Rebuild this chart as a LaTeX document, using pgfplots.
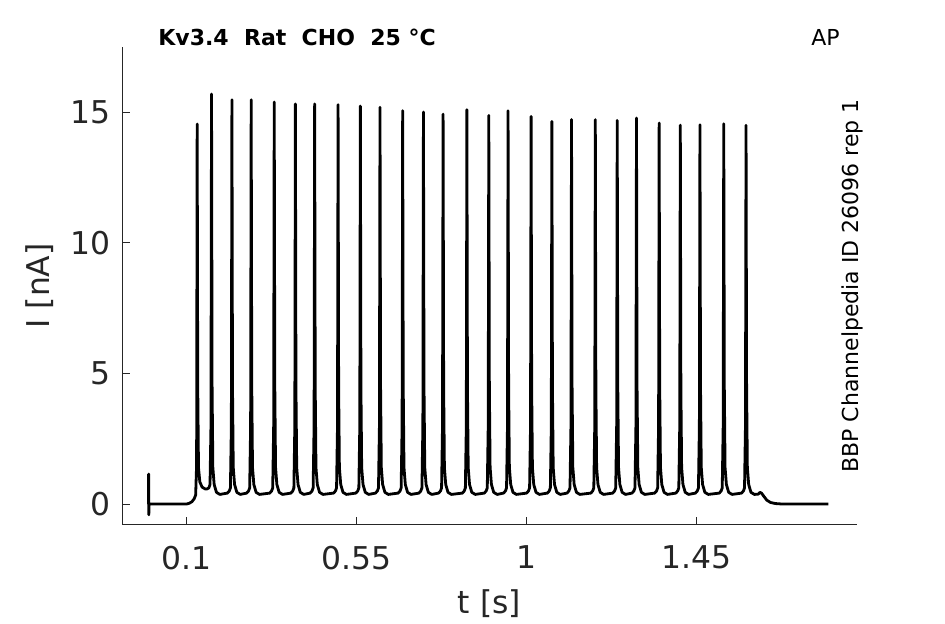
\documentclass[border=0pt]{standalone}
\usepackage{fontspec}
\setmainfont{DejaVu Sans}
\usepackage{pgfplots}
\pgfplotsset{compat=1.18}
\definecolor{axgray}{HTML}{262626}
\begin{document}
\begin{tikzpicture}
\path[use as bounding box] (0,0) rectangle (472.5pt,312pt);
\begin{axis}[
 at={(61pt,49.5pt)}, anchor=south west,
 scale only axis, width=367.35pt, height=239.15pt,
 xmin=-0.07, xmax=1.875, ymin=-0.8, ymax=17.5,
 axis x line*=bottom, axis y line*=left,
 axis line style={axgray, line width=0.5pt},
 tick align=inside, major tick length=4pt,
 tick style={axgray, line width=0.5pt},
 xtick={0.1,0.55,1,1.45}, xticklabels={0.1,0.55,1,1.45},
 ytick={0,5,10,15},
 tick label style={font=\fontsize{15.7}{18}\selectfont, text=axgray},
 /pgf/number format/assume math mode=true,
 xticklabel style={yshift=-7pt},
 yticklabel style={xshift=-2.3pt},
 xlabel={t [s]}, ylabel={I [nA]},
 label style={font=\fontsize{15.7}{18}\selectfont, text=axgray},
 xlabel style={at={(axis description cs:0.5,-0.186)}, anchor=base},
 ylabel style={at={(axis description cs:-0.098,0.5)}, anchor=base},
]
\addplot[black, line width=1.4pt, line join=round] coordinates {
(0,0) (0.0005,1.15) (0.001,-0.41) (0.0015,0) (0.100,0) (0.108,0.03) (0.115,0.09) (0.121,0.2) (0.125,0.35) (0.1275,1.5)
(0.129,14.54) (0.1305,4.5) (0.1325,1.4) (0.136,0.85) (0.142,0.65) (0.150,0.58)
(0.155,0.58) (0.160,0.62) (0.163,0.75) (0.1655,3.0)
(0.167,15.69) (0.1685,4.5) (0.1705,1.4) (0.174,0.75) (0.180,0.45) (0.189,0.37)
(0.209,0.42) (0.214,0.50) (0.217,0.62) (0.2195,3.0) (0.221,15.47)
(0.2225,4.5) (0.2245,1.4) (0.228,0.75) (0.234,0.45) (0.243,0.37)
(0.260,0.42) (0.265,0.50) (0.268,0.62) (0.2705,3.0) (0.272,15.47)
(0.2735,4.5) (0.2755,1.4) (0.279,0.75) (0.285,0.45) (0.294,0.37)
(0.321,0.42) (0.326,0.50) (0.329,0.62) (0.3315,3.0) (0.333,15.38)
(0.3345,4.5) (0.3365,1.4) (0.340,0.75) (0.346,0.45) (0.355,0.37)
(0.377,0.42) (0.382,0.50) (0.385,0.62) (0.3875,3.0) (0.389,15.31)
(0.3905,4.5) (0.3925,1.4) (0.396,0.75) (0.402,0.45) (0.411,0.37)
(0.428,0.42) (0.433,0.50) (0.436,0.62) (0.4385,3.0) (0.440,15.31)
(0.4415,4.5) (0.4435,1.4) (0.447,0.75) (0.453,0.45) (0.462,0.37)
(0.490,0.42) (0.495,0.50) (0.498,0.62) (0.5005,3.0) (0.502,15.28)
(0.5035,4.5) (0.5055,1.4) (0.509,0.75) (0.515,0.45) (0.524,0.37)
(0.549,0.42) (0.554,0.50) (0.557,0.62) (0.5595,3.0) (0.561,15.23)
(0.5625,4.5) (0.5645,1.4) (0.568,0.75) (0.574,0.45) (0.583,0.37)
(0.601,0.42) (0.606,0.50) (0.609,0.62) (0.6115,3.0) (0.613,15.18)
(0.6145,4.5) (0.6165,1.4) (0.620,0.75) (0.626,0.45) (0.635,0.37)
(0.661,0.42) (0.666,0.50) (0.669,0.62) (0.6715,3.0) (0.673,15.05)
(0.6745,4.5) (0.6765,1.4) (0.680,0.75) (0.686,0.45) (0.695,0.37)
(0.716,0.42) (0.721,0.50) (0.724,0.62) (0.7265,3.0) (0.728,15.00)
(0.7295,4.5) (0.7315,1.4) (0.735,0.75) (0.741,0.45) (0.750,0.37)
(0.768,0.42) (0.773,0.50) (0.776,0.62) (0.7785,3.0) (0.780,14.92)
(0.7815,4.5) (0.7835,1.4) (0.787,0.75) (0.793,0.45) (0.802,0.37)
(0.831,0.42) (0.836,0.50) (0.839,0.62) (0.8415,3.0) (0.843,15.09)
(0.8445,4.5) (0.8465,1.4) (0.850,0.75) (0.856,0.45) (0.865,0.37)
(0.889,0.42) (0.894,0.50) (0.897,0.62) (0.8995,3.0) (0.901,14.87)
(0.9025,4.5) (0.9045,1.4) (0.908,0.75) (0.914,0.45) (0.923,0.37)
(0.940,0.42) (0.945,0.50) (0.948,0.62) (0.9505,3.0) (0.952,15.05)
(0.9535,4.5) (0.9555,1.4) (0.959,0.75) (0.965,0.45) (0.974,0.37)
(1.001,0.42) (1.006,0.50) (1.009,0.62) (1.0115,3.0) (1.013,14.83)
(1.0145,4.5) (1.0165,1.4) (1.020,0.75) (1.026,0.45) (1.035,0.37)
(1.056,0.42) (1.061,0.50) (1.064,0.62) (1.0665,3.0) (1.068,14.64)
(1.0695,4.5) (1.0715,1.4) (1.075,0.75) (1.081,0.45) (1.090,0.37)
(1.108,0.42) (1.113,0.50) (1.116,0.62) (1.1185,3.0) (1.120,14.71)
(1.1215,4.5) (1.1235,1.4) (1.127,0.75) (1.133,0.45) (1.142,0.37)
(1.171,0.42) (1.176,0.50) (1.179,0.62) (1.1815,3.0) (1.183,14.71)
(1.1845,4.5) (1.1865,1.4) (1.190,0.75) (1.196,0.45) (1.205,0.37)
(1.229,0.42) (1.234,0.50) (1.237,0.62) (1.2395,3.0) (1.241,14.68)
(1.2425,4.5) (1.2445,1.4) (1.248,0.75) (1.254,0.45) (1.263,0.37)
(1.280,0.42) (1.285,0.50) (1.288,0.62) (1.2905,3.0) (1.292,14.77)
(1.2935,4.5) (1.2955,1.4) (1.299,0.75) (1.305,0.45) (1.314,0.37)
(1.340,0.42) (1.345,0.50) (1.348,0.62) (1.3505,3.0) (1.352,14.58)
(1.3535,4.5) (1.3555,1.4) (1.359,0.75) (1.365,0.45) (1.374,0.37)
(1.396,0.42) (1.401,0.50) (1.404,0.62) (1.4065,3.0) (1.408,14.50)
(1.4095,4.5) (1.4115,1.4) (1.415,0.75) (1.421,0.45) (1.430,0.37)
(1.448,0.42) (1.453,0.50) (1.456,0.62) (1.4585,3.0) (1.460,14.51)
(1.4615,4.5) (1.4635,1.4) (1.467,0.75) (1.473,0.45) (1.482,0.37)
(1.511,0.42) (1.516,0.50) (1.519,0.62) (1.5215,3.0) (1.523,14.55)
(1.5245,4.5) (1.5265,1.4) (1.530,0.75) (1.536,0.45) (1.545,0.37)
(1.570,0.42) (1.575,0.50) (1.578,0.62) (1.5805,3.0) (1.582,14.49)
(1.5835,4.5) (1.5855,1.4) (1.589,0.75) (1.595,0.45) (1.604,0.37) (1.614,0.38) (1.619,0.45) (1.623,0.42) (1.629,0.3) (1.637,0.15) (1.647,0.06) (1.66,0.02) (1.68,0) (1.80,0)
};
\end{axis}
\node[anchor=base west, inner sep=0pt, font=\bfseries\fontsize{11}{13}\selectfont] at (79pt,289pt) {Kv3.4\ \ Rat\ \ CHO\ \ 25 °C};
\node[anchor=base east, inner sep=0pt, font=\fontsize{11}{13}\selectfont] at (420pt,289pt) {AP};
\node[anchor=base west, inner sep=0pt, rotate=90, font=\fontsize{11}{13}\selectfont] at (429pt,75.5pt) {BBP Channelpedia ID 26096 rep 1};
\end{tikzpicture}
\end{document}
